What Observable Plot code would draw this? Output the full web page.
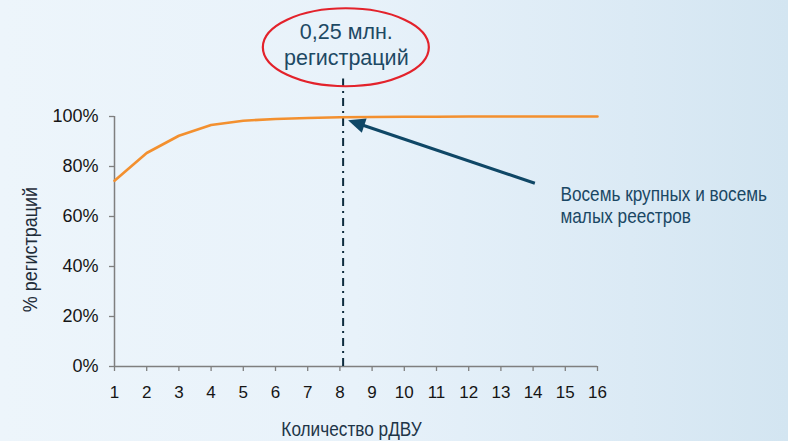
<!DOCTYPE html>
<html>
<head>
<meta charset="utf-8">
<script src="https://cdn.jsdelivr.net/npm/d3@7"></script>
<script src="https://cdn.jsdelivr.net/npm/@observablehq/plot@0.6"></script>
<style>
  html, body { margin: 0; padding: 0; }
  body {
    width: 788px; height: 441px; overflow: hidden;
    background: linear-gradient(90deg, #edf5fb 0%, #e8f2fa 45%, #dbeaf5 80%, #d3e5f1 100%);
  }
</style>
</head>
<body>
<div id="chart"></div>
<script>
// Number of registries (x) and cumulative share of registrations, %
const registries = [1, 2, 3, 4, 5, 6, 7, 8, 9, 10, 11, 12, 13, 14, 15, 16];
const sharePct   = [74.3, 85.4, 92.3, 96.6, 98.3, 99.0, 99.4, 99.7, 99.8, 99.9, 99.9, 100, 100, 100, 100, 100];

const xTicks = [1, 2, 3, 4, 5, 6, 7, 8, 9, 10, 11, 12, 13, 14, 15, 16];
const yTicks = [0, 20, 40, 60, 80, 100];

const xLabel = "Количество рДВУ";
const yLabel = "% регистраций";

// threshold marker (0.25 mln registrations)
const markerX = 8.1;
const markerTop = 115;
const calloutX = 8.2;
const calloutY = 127.5;
const calloutTextY = 129.0;
const calloutText = "0,25 млн.\nрегистраций";

// pointer arrow and its note
const arrowFrom = [14.07, 73.1];
const arrowTo = [8.27, 98.3];
const noteX = 14.85;
const noteY = 64.7;
const noteText = "Восемь крупных и восемь\nмалых реестров";

const data = registries.map((x, i) => ({x, y: sharePct[i]}));

function ellipseMark(index, scales) {
  const cx = scales.x(calloutX), cy = scales.y(calloutY);
  return d3.create("svg:ellipse")
    .attr("cx", cx).attr("cy", cy)
    .attr("rx", 83).attr("ry", 39)
    .attr("fill", "none").attr("stroke", "#e3222b").attr("stroke-width", 2.2)
    .node();
}

function arrowMark(index, scales) {
  const x1 = scales.x(arrowFrom[0]), y1 = scales.y(arrowFrom[1]);
  const x2 = scales.x(arrowTo[0]), y2 = scales.y(arrowTo[1]);
  const a = Math.atan2(y2 - y1, x2 - x1);
  const L = 17, W = 7.5;
  const bx = x2 - L * Math.cos(a), by = y2 - L * Math.sin(a);
  const g = d3.create("svg:g");
  g.append("line")
    .attr("x1", x1).attr("y1", y1).attr("x2", bx + 2 * Math.cos(a)).attr("y2", by + 2 * Math.sin(a))
    .attr("stroke", "#0f4766").attr("stroke-width", 3);
  g.append("path")
    .attr("d", `M${x2},${y2}L${bx - W * Math.sin(a)},${by + W * Math.cos(a)}L${bx + W * Math.sin(a)},${by - W * Math.cos(a)}Z`)
    .attr("fill", "#0f4766");
  return g.node();
}

const chart = Plot.plot({
  width: 788,
  height: 441,
  marginLeft: 114,
  marginRight: 191,
  marginTop: 116,
  marginBottom: 75,
  style: {background: "transparent", fontFamily: "'Liberation Sans', Arial, sans-serif", overflow: "visible"},
  x: {domain: [1, 16]},
  y: {domain: [0, 100]},
  marks: [
    Plot.axisX(xTicks, {tickSize: 5, tickPadding: 14, fontSize: 17, stroke: "#7f7f7f", strokeWidth: 1.3, fill: "#151515", label: null, tickFormat: d => String(d)}),
    Plot.axisY(yTicks, {tickSize: 5, tickPadding: 11, fontSize: 18, stroke: "#7f7f7f", strokeWidth: 1.3, fill: "#151515", label: null, tickFormat: d => d + "%"}),
    Plot.ruleY([0], {stroke: "#7f7f7f", strokeWidth: 1.5}),
    Plot.ruleX([1], {stroke: "#7f7f7f", strokeWidth: 1.5}),
    Plot.ruleX([markerX], {y1: 0, y2: markerTop, stroke: "#0d2b3e", strokeWidth: 2, strokeDasharray: "8,5,2,5"}),
    Plot.line(data, {x: "x", y: "y", stroke: "#f3902f", strokeWidth: 2.6}),
    ellipseMark,
    Plot.text([calloutText], {x: calloutX, y: calloutTextY, text: d => d, fontSize: 21.5, lineHeight: 1.21, fill: "#1d4964"}),
    arrowMark,
    Plot.text([noteText], {x: noteX, y: noteY, text: d => d, textAnchor: "start", fontSize: 20, lineHeight: 1.1, fill: "#1a4764", ariaLabel: () => "note"}),
    Plot.text([xLabel], {frameAnchor: "bottom", dy: 63, dx: -4.5, textAnchor: "middle", lineAnchor: "middle", text: d => d, fontSize: 20.5, fill: "#1e3548", ariaLabel: () => "xlabel"}),
    Plot.text([yLabel], {frameAnchor: "left", dx: -84, dy: 8, rotate: -90, textAnchor: "middle", lineAnchor: "middle", text: d => d, fontSize: 20, fill: "#1f2d3a", ariaLabel: () => "ylabel"})
  ]
});

// condensed look of the reference's narrow labels
const squeeze = {note: 0.86, xlabel: 0.84, ylabel: 0.9};
for (const [name, k] of Object.entries(squeeze)) {
  d3.select(chart).selectAll(`[aria-label="${name}"]`).each(function() {
    const targets = this.tagName.toLowerCase() === "text" ? [this] : Array.from(this.querySelectorAll("text"));
    for (const el of targets) {
      const t = el.getAttribute("transform") || "";
      el.setAttribute("transform", `${t} scale(${k},1)`);
    }
  });
}

document.getElementById("chart").appendChild(chart);
</script>
</body>
</html>
